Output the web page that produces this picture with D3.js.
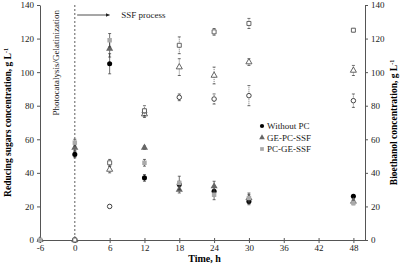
<!DOCTYPE html>
<html>
<head>
<meta charset="utf-8">
<script src="https://cdn.jsdelivr.net/npm/d3@7"></script>
<style>
  body { margin: 0; background: #fff; }
  svg text { font-family: "Liberation Serif", "Times New Roman", serif; }
</style>
</head>
<body>
<div id="chart"></div>
<script>
// time points (h)
const times = [-6, 0, 6, 12, 18, 24, 30, 48];
const xTicks = [-6, 0, 6, 12, 18, 24, 30, 36, 42, 48];
const yTicks = [0, 20, 40, 60, 80, 100, 120, 140];

const seriesNames = ["Without PC", "GE-PC-SSF", "PC-GE-SSF"];

// reducing sugars, g/L (left axis)
const sugarWithout = [0, 51, 105, 37, 33, 29, 23, 26];
const sugarGE = [0, 55, 114, 55, 30, 32, 25, 23];
const sugarPC = [0, 58, 119, 46, 34, 27, 25, 22];
const sugarWithoutErr = [0, 2, 6, 2, 2, 3, 2, 1];
const sugarGEErr = [0, 2, 5, 1, 2, 3, 2, 1];
const sugarPCErr = [0, 2, 4, 2, 4, 3, 3, 1];

// bioethanol, g/L (right axis)
const ethWithout = [null, 0, 20, 76, 85, 84, 86, 83];
const ethGE = [null, 0, 42, 75, 103, 98, 106, 101];
const ethPC = [null, 0, 46, 77, 116, 124, 129, 125];
const ethWithoutErr = [0, 0, 1, 2, 2, 3, 6, 4];
const ethGEErr = [0, 0, 2, 2, 5, 5, 2, 3];
const ethPCErr = [0, 0, 2, 3, 5, 2, 3, 1];

const W = 403, H = 265;
const margin = { top: 5, right: 38, bottom: 25, left: 40 };

const svg = d3.select("#chart").append("svg")
    .attr("width", W)
    .attr("height", H);

const x = d3.scaleLinear().domain([-6, 50]).range([margin.left, W - margin.right]);
const yL = d3.scaleLinear().domain([0, 140]).range([H - margin.bottom, margin.top]);
const yR = d3.scaleLinear().domain([0, 140]).range([H - margin.bottom, margin.top]);

// axes
const gx = svg.append("g")
    .attr("transform", `translate(0, ${yL(0)})`)
    .call(d3.axisBottom(x).tickValues(xTicks).tickFormat(d => String(d))
        .tickSize(3).tickPadding(2).tickSizeOuter(0));
gx.selectAll(".tick line").attr("y1", -2).attr("y2", 3);

svg.append("g")
    .attr("transform", `translate(${x(-6)}, 0)`)
    .call(d3.axisLeft(yL).tickValues(yTicks).tickSize(3).tickSizeOuter(0));

svg.append("g")
    .attr("transform", `translate(${x(50)}, 0)`)
    .call(d3.axisRight(yR).tickValues(yTicks).tickSize(3).tickSizeOuter(0));

svg.selectAll(".domain").attr("stroke", "#555");
svg.selectAll(".tick line").attr("stroke", "#555");
svg.selectAll(".tick text").attr("font-size", 9).attr("fill", "#222")
    .style("font-family", "Liberation Serif, serif");

// dashed line at t = 0
svg.append("line")
    .attr("x1", x(0)).attr("x2", x(0))
    .attr("y1", yL(140)).attr("y2", yL(0))
    .attr("stroke", "#333").attr("stroke-width", 0.8)
    .attr("stroke-dasharray", "2,2");

svg.append("text")
    .attr("transform", `translate(${x(0) - 16}, 10) rotate(-90)`)
    .attr("text-anchor", "end")
    .attr("font-size", 9)
    .attr("fill", "#222")
    .text("Photocatalysis/Gelatinization");

// SSF arrow
svg.append("defs").append("marker")
    .attr("id", "arrow")
    .attr("viewBox", "0 0 10 10")
    .attr("refX", 10).attr("refY", 5)
    .attr("markerWidth", 5).attr("markerHeight", 5)
    .attr("orient", "auto")
    .append("path").attr("d", "M0,0 L10,5 L0,10 z").attr("fill", "#222");

svg.append("line")
    .attr("x1", x(0.4)).attr("x2", x(6))
    .attr("y1", 15).attr("y2", 15)
    .attr("stroke", "#222").attr("stroke-width", 0.8)
    .attr("marker-end", "url(#arrow)");

svg.append("text")
    .attr("x", x(8)).attr("y", 18)
    .attr("font-size", 9).attr("fill", "#222")
    .text("SSF process");

// axis titles
svg.append("text")
    .attr("transform", `translate(11, ${(yL(0) + yL(140)) / 2}) rotate(-90)`)
    .attr("text-anchor", "middle")
    .attr("font-size", 9.5).attr("font-weight", "bold")
    .html('Reducing sugars concentration, g L<tspan dy="-3" font-size="6">-1</tspan>');

svg.append("text")
    .attr("transform", `translate(397, ${(yR(0) + yR(140)) / 2}) rotate(-90)`)
    .attr("text-anchor", "middle")
    .attr("font-size", 9.5).attr("font-weight", "bold")
    .html('Bioethanol concentration, g L<tspan dy="-3" font-size="6">-1</tspan>');

svg.append("text")
    .attr("x", (x(-6) + x(50)) / 2 + 2).attr("y", 262)
    .attr("text-anchor", "middle")
    .attr("font-size", 10).attr("font-weight", "bold")
    .text("Time, h");

// marker shapes
const shapes = [d3.symbolCircle, d3.symbolTriangle, d3.symbolSquare];
const fills = ["#000", "#666", "#aaa"];
const openStroke = ["#333", "#555", "#555"];

const sugarSeries = [
    { vals: sugarWithout, err: sugarWithoutErr },
    { vals: sugarGE, err: sugarGEErr },
    { vals: sugarPC, err: sugarPCErr }
];
const ethSeries = [
    { vals: ethWithout, err: ethWithoutErr },
    { vals: ethGE, err: ethGEErr },
    { vals: ethPC, err: ethPCErr }
];

function drawSeries(series, scale, open) {
    series.forEach((s, i) => {
        const pts = times.map((t, j) => ({ t: t, v: s.vals[j], e: s.err[j] }))
            .filter(d => d.v !== null);
        const g = svg.append("g");
        // error bars
        pts.filter(d => d.e > 0).forEach(d => {
            g.append("line")
                .attr("x1", x(d.t)).attr("x2", x(d.t))
                .attr("y1", scale(d.v - d.e)).attr("y2", scale(d.v + d.e))
                .attr("stroke", "#333").attr("stroke-width", 0.7)
                .attr("stroke-dasharray", open ? "1,1" : null);
            [d.v - d.e, d.v + d.e].forEach(v => {
                g.append("line")
                    .attr("x1", x(d.t) - 1.5).attr("x2", x(d.t) + 1.5)
                    .attr("y1", scale(v)).attr("y2", scale(v))
                    .attr("stroke", "#333").attr("stroke-width", 0.7);
            });
        });
        g.selectAll("path.pt")
            .data(pts)
            .join("path")
            .attr("class", "pt")
            .attr("transform", d => `translate(${x(d.t)}, ${scale(d.v)})`)
            .attr("d", d3.symbol().type(shapes[i]).size(open ? 16 : (i === 1 ? 22 : 20)))
            .attr("fill", open ? "#fff" : fills[i])
            .attr("stroke", open ? openStroke[i] : "none")
            .attr("stroke-width", 0.9);
    });
}

drawSeries(sugarSeries, yL, false);
drawSeries(ethSeries, yR, true);

// legend
const legend = svg.append("g").attr("transform", "translate(262, 126)");
seriesNames.forEach((name, i) => {
    const row = legend.append("g").attr("transform", `translate(0, ${i * 11.5})`);
    row.append("path")
        .attr("d", d3.symbol().type(shapes[i]).size(14))
        .attr("fill", fills[i]);
    row.append("text")
        .attr("x", 5).attr("y", 3)
        .attr("font-size", 9).attr("fill", "#222")
        .text(name);
});
</script>
</body>
</html>
